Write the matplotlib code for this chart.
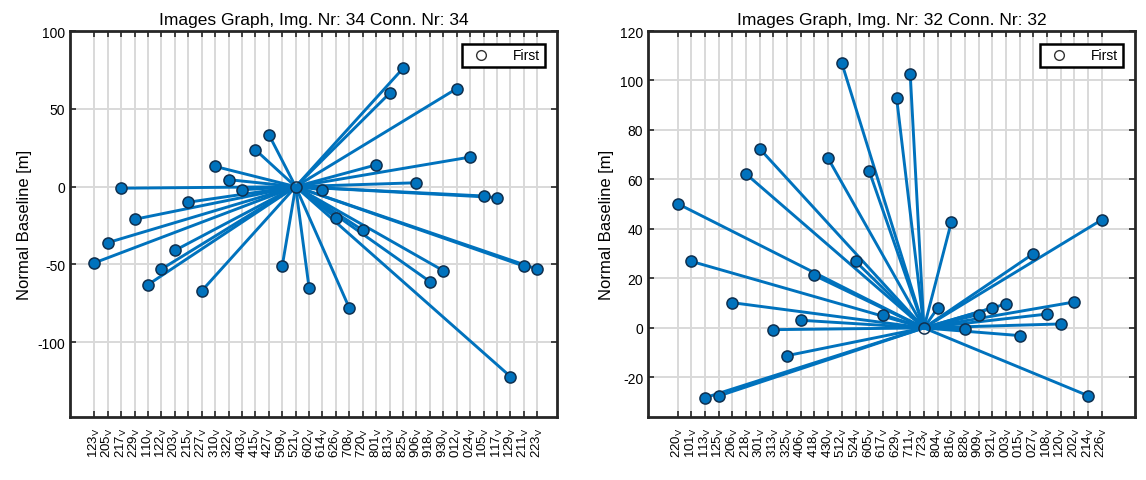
import numpy as np
import matplotlib.pyplot as plt
from matplotlib.lines import Line2D

plt.rcParams['font.family'] = ['Liberation Sans', 'DejaVu Sans']
plt.rcParams['mathtext.fontset'] = 'custom'
plt.rcParams['mathtext.rm'] = 'Liberation Sans'
plt.rcParams['axes.unicode_minus'] = False

# left graph: 34 images, master 521
left_labels = ['123', '205', '217', '229', '110', '122', '203', '215', '227', '310',
               '322', '403', '415', '427', '509', '521', '602', '614', '626', '708',
               '720', '801', '813', '825', '906', '918', '930', '012', '024', '105',
               '117', '129', '211', '223']
left_bperp = [-49, -36, -1, -21, -63, -53, -41, -10, -67, 13,
              4.5, -2, 23.7, 33.5, -51, 0, -65, -2, -20, -78,
              -28, 14, 60, 76, 2.5, -61, -54, 63, 19, -6,
              -7, -122, -51, -53]
left_master = '521'

# right graph: 32 images, master 723
right_labels = ['220', '101', '113', '125', '206', '218', '301', '313', '325', '406',
                '418', '430', '512', '524', '605', '617', '629', '711', '723', '804',
                '816', '828', '909', '921', '003', '015', '027', '108', '120', '202',
                '214', '226']
right_bperp = [50.2, 26.9, -28.2, -27.5, 10.2, 62.2, 72.4, -0.7, -11.2, 3.1,
               21.2, 68.5, 107, 26.9, 63.4, 5.4, 93.1, 102.5, 0, 8,
               42.7, -0.4, 5.4, 8, 9.7, -3.1, 30, 5.6, 1.6, 10.5,
               -27.4, 43.7]
right_master = '723'

blue = '#0072BD'
edge = '#10304f'


def draw_graph(ax, labels, bperp, master, title, xlim, ylim, yticks):
    x = np.arange(len(labels))
    y = np.array(bperp)
    m = labels.index(master)
    for i in range(len(labels)):
        if i == m:
            continue
        ax.plot([x[m], x[i]], [y[m], y[i]], color=blue, lw=2.1, zorder=2)
    others = [i for i in range(len(labels)) if i != m]
    ax.plot(x[others], y[others], 'o', ms=8, mfc=blue, mec=edge, mew=1.1, zorder=3)
    ax.plot(x[m], y[m], 'o', ms=8, mfc='none', mec=edge, mew=1.1, zorder=4)

    ax.set_xticks(x)
    ax.set_xticklabels([lab + r'$_\mathregular{V}$' for lab in labels],
                       rotation=90, fontsize=9.5)
    ax.set_yticks(yticks)
    ax.tick_params(axis='y', labelsize=10)
    ax.tick_params(axis='x', pad=7)
    ax.set_xlim(xlim)
    ax.set_ylim(ylim)
    ax.tick_params(direction='in', top=True, right=True, length=4, width=1.2,
                   color='#262626')
    ax.grid(True, color='#d9d9d9', lw=1.4)
    ax.set_axisbelow(True)
    for s in ax.spines.values():
        s.set_linewidth(2.0)
        s.set_color('#262626')
    ax.set_ylabel('Normal Baseline [m]', fontsize=12, labelpad=4)
    ax.set_title(title, fontsize=12.5, pad=5)

    handle = Line2D([], [], marker='o', ls='none', mfc='none', mec='#333333', ms=7)
    leg = ax.legend([handle], ['First'], loc='upper right', fontsize=10,
                    fancybox=False, framealpha=1, handletextpad=1.3,
                    borderaxespad=0.9, borderpad=0.35)
    leg.get_frame().set_edgecolor('black')
    leg.get_frame().set_linewidth(1.8)


fig = plt.figure(figsize=(11.46, 4.81), dpi=100)
ax1 = fig.add_axes([70 / 1146, 63 / 481, 487 / 1146, 386 / 481])
ax2 = fig.add_axes([648 / 1146, 63 / 481, 487 / 1146, 386 / 481])

draw_graph(ax1, left_labels, left_bperp, left_master,
           'Images Graph, Img. Nr: 34 Conn. Nr: 34',
           (-1.81, 34.47), (-148, 100), [-100, -50, 0, 50, 100])
draw_graph(ax2, right_labels, right_bperp, right_master,
           'Images Graph, Img. Nr: 32 Conn. Nr: 32',
           (-2.17, 33.43), (-36, 120), [-20, 0, 20, 40, 60, 80, 100, 120])

fig.savefig('out.png', dpi=100)
